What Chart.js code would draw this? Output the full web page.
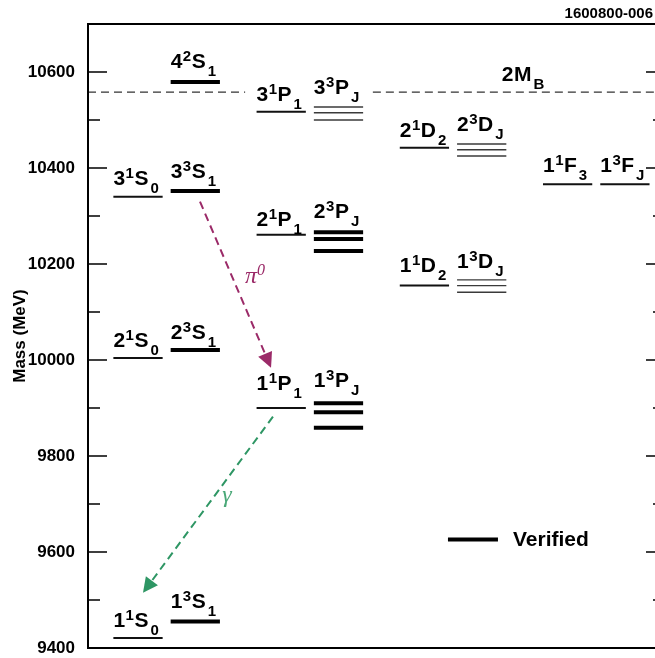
<!DOCTYPE html>
<html><head><meta charset="utf-8">
<script src="https://cdn.jsdelivr.net/npm/chart.js@4/dist/chart.umd.min.js"></script>
<style>
html,body{margin:0;padding:0;background:#fff;overflow:hidden;}
#wrap{position:relative;width:655px;height:658px;overflow:hidden;background:#fff;}
canvas{display:block;}
</style></head><body>
<div id="wrap"><canvas id="c" width="680" height="680" style="width:680px;height:680px"></canvas></div>
<script>
// ---------------- DATA ----------------
// x positions (column units) of the eight level columns
const columns = [0, 1, 2.5, 3.5, 5, 6, 7.5, 8.5];

// Levels: [column index, mass (MeV)]
const verifiedLevels = [
  [1, 9455], [1, 10021], [1, 10352], [1, 10579],
  [3, 10266], [3, 10252], [3, 10227],
  [3, 9910], [3, 9891], [3, 9859]
];
const predictedSingleLevels = [
  [0, 9421], [0, 10004], [0, 10340],
  [2, 9900], [2, 10261], [2, 10517],
  [4, 10155], [4, 10442],
  [6, 10366], [7, 10366]
];
const predictedMultipletLevels = [
  [3, 10527], [3, 10515], [3, 10500],
  [5, 10450], [5, 10438], [5, 10425],
  [5, 10167], [5, 10155], [5, 10141]
];

// 2 M_B threshold (MeV) and the x-range (column units) where the dashed line is interrupted
const thresholdMass = 10558;
const thresholdGap = [1.87, 4.10];

// Level labels: [prefix, superscript, letter, subscript, column index, label baseline mass]
const levelLabels = [
  ['4','2','S','1', 1, 10608],
  ['3','1','S','0', 0, 10365],
  ['3','3','S','1', 1, 10380],
  ['3','1','P','1', 2, 10540],
  ['3','3','P','J', 3, 10554],
  ['2','1','D','2', 4, 10465],
  ['2','3','D','J', 5, 10477],
  ['1','1','F','3', 6, 10392],
  ['1','3','F','J', 7, 10392],
  ['2','1','P','1', 2, 10279],
  ['2','3','P','J', 3, 10296],
  ['1','1','D','2', 4, 10184],
  ['1','3','D','J', 5, 10192],
  ['2','1','S','0', 0, 10027],
  ['2','3','S','1', 1, 10044],
  ['1','1','P','1', 2, 9938],
  ['1','3','P','J', 3, 9944],
  ['1','1','S','0', 0, 9444],
  ['1','3','S','1', 1, 9484]
];
const thresholdLabel = ['2', '', 'M', 'B', 6.35, 10581];

// Transitions: start and arrow tip [x units, mass], label anchor [x units, mass]
const transitionNames = ['\u03C0', '\u03B3'];
const transitionSups = ['0', ''];
const transitionFrom = [[1.082, 10330], [2.356, 9882]];
const transitionTo   = [[2.322, 9984], [0.087, 9515]];
const transitionLabelAt = [[2.042, 10173], [1.553, 9717]];

// Legend
const legendText = 'Verified';
const legendLine = [[5.411, 9626], [6.284, 9626]];
const legendTextAt = [6.546, 9624];

// Y ticks
const yMin = 9400, yMax = 10700, yStep = 100, yLabelStep = 200;
const figureId = '1600800-006';

// ---------------- STYLE / BUILD ----------------
const halfWidth = 0.43;
const xMin = -0.873, xMax = 9.2;
const FONT = '"Liberation Sans", Arial, Helvetica, sans-serif';
const SERIF = '"Liberation Serif", "DejaVu Serif", serif';
const transitionColors = ['#9b2a68', '#2e9664'];
const transitionLabelColors = ['#9b2a68', '#4aa878'];

function seg(col, m) {
  const c = columns[col];
  return [{x: c - halfWidth, y: m}, {x: c + halfWidth, y: m}];
}
const datasets = [];
verifiedLevels.forEach(([c, m]) => datasets.push({data: seg(c, m), borderColor: '#000', borderWidth: 4}));
predictedSingleLevels.forEach(([c, m]) => datasets.push({data: seg(c, m), borderColor: '#111', borderWidth: 2}));
predictedMultipletLevels.forEach(([c, m]) => datasets.push({data: seg(c, m), borderColor: '#3a3a3a', borderWidth: 1.4}));
datasets.push({data: [{x: xMin, y: thresholdMass}, {x: thresholdGap[0], y: thresholdMass}], borderColor: '#333', borderWidth: 1.3, borderDash: [8, 5]});
datasets.push({data: [{x: thresholdGap[1], y: thresholdMass}, {x: xMax, y: thresholdMass}], borderColor: '#333', borderWidth: 1.3, borderDash: [8, 5]});
transitionFrom.forEach((f, i) => datasets.push({
  data: [{x: f[0], y: f[1]}, {x: transitionTo[i][0], y: transitionTo[i][1]}],
  borderColor: transitionColors[i], borderWidth: 2, borderDash: [8, 5]
}));
datasets.push({data: legendLine.map(p => ({x: p[0], y: p[1]})), borderColor: '#000', borderWidth: 4});
datasets.forEach(d => { d.pointRadius = 0; d.borderCapStyle = 'butt'; d.fill = false; d.tension = 0; });

function drawLevelLabel(ctx, x, y, pre, sup, main, sub) {
  ctx.textAlign = 'left'; ctx.textBaseline = 'alphabetic'; ctx.fillStyle = '#000';
  const big = 'bold 21px ' + FONT, small = 'bold 15px ' + FONT;
  ctx.font = big; ctx.fillText(pre, x, y); x += ctx.measureText(pre).width + 0.5;
  if (sup) { ctx.font = small; ctx.fillText(sup, x, y - 7); x += ctx.measureText(sup).width + 0.5; }
  ctx.font = big; ctx.fillText(main, x, y); x += ctx.measureText(main).width + 2;
  ctx.font = small; ctx.fillText(sub, x, y + 8);
}

const overlay = {
  id: 'overlay',
  afterDatasetsDraw(chart) {
    const ctx = chart.ctx, xs = chart.scales.x, ys = chart.scales.y, a = chart.chartArea;
    ctx.save();
    // frame
    ctx.strokeStyle = '#000'; ctx.lineWidth = 2;
    ctx.strokeRect(a.left, a.top, a.right - a.left, a.bottom - a.top);
    // inward ticks on both vertical axes
    ctx.lineWidth = 1.3;
    ys.ticks.forEach(t => {
      const y = ys.getPixelForValue(t.value);
      const len = (t.value % yLabelStep === 0) ? 19 : 12;
      ctx.beginPath();
      ctx.moveTo(a.left, y); ctx.lineTo(a.left + len, y);
      ctx.moveTo(a.right, y); ctx.lineTo(a.right - len, y);
      ctx.stroke();
    });
    // level labels
    levelLabels.forEach(([pre, sup, main, sub, col, m]) => {
      drawLevelLabel(ctx, xs.getPixelForValue(columns[col] - halfWidth), ys.getPixelForValue(m), pre, sup, main, sub);
    });
    const tl = thresholdLabel;
    drawLevelLabel(ctx, xs.getPixelForValue(tl[4]), ys.getPixelForValue(tl[5]), tl[0], tl[1], tl[2], tl[3]);
    // arrow heads and transition labels
    transitionFrom.forEach((f, i) => {
      const x0 = xs.getPixelForValue(f[0]), y0 = ys.getPixelForValue(f[1]);
      const x1 = xs.getPixelForValue(transitionTo[i][0]), y1 = ys.getPixelForValue(transitionTo[i][1]);
      const dx = x1 - x0, dy = y1 - y0, L = Math.hypot(dx, dy);
      const ux = dx / L, uy = dy / L, hl = 15, hw = 7.5;
      const bx = x1 - ux * hl, by = y1 - uy * hl;
      ctx.fillStyle = transitionColors[i];
      ctx.beginPath();
      ctx.moveTo(x1, y1);
      ctx.lineTo(bx - uy * hw, by + ux * hw);
      ctx.lineTo(bx + uy * hw, by - ux * hw);
      ctx.closePath(); ctx.fill();
      // label
      const lx = xs.getPixelForValue(transitionLabelAt[i][0]), ly = ys.getPixelForValue(transitionLabelAt[i][1]);
      ctx.fillStyle = transitionLabelColors[i];
      ctx.font = 'italic 24px ' + SERIF;
      const w1 = ctx.measureText(transitionNames[i]).width;
      ctx.font = 'italic 16px ' + SERIF;
      const w2 = transitionSups[i] ? ctx.measureText(transitionSups[i]).width : 0;
      let sx = lx - (w1 + w2) / 2;
      ctx.textAlign = 'left'; ctx.textBaseline = 'alphabetic';
      ctx.font = 'italic 24px ' + SERIF;
      ctx.fillText(transitionNames[i], sx, ly + 6);
      if (transitionSups[i]) { ctx.font = 'italic 16px ' + SERIF; ctx.fillText(transitionSups[i], sx + w1, ly - 2); }
    });
    // legend text
    ctx.fillStyle = '#000'; ctx.font = 'bold 21px ' + FONT; ctx.textAlign = 'left'; ctx.textBaseline = 'middle';
    ctx.fillText(legendText, xs.getPixelForValue(legendTextAt[0]), ys.getPixelForValue(legendTextAt[1]));
    // figure id
    ctx.font = 'bold 15px ' + FONT; ctx.textAlign = 'right'; ctx.textBaseline = 'alphabetic';
    ctx.fillText(figureId, 653, 17.5);
    ctx.restore();
  }
};

new Chart(document.getElementById('c'), {
  type: 'line',
  data: {datasets},
  options: {
    responsive: false,
    devicePixelRatio: 1,
    animation: false,
    layout: {padding: {top: 24, right: 15, bottom: 32, left: 0}},
    plugins: {legend: {display: false}, tooltip: {enabled: false}},
    scales: {
      x: {type: 'linear', min: xMin, max: xMax, display: false},
      y: {
        type: 'linear', min: yMin, max: yMax,
        grid: {display: false}, border: {display: false},
        ticks: {
          stepSize: yStep, autoSkip: false, padding: 5, color: '#000',
          font: {family: FONT, size: 17, weight: 'bold'},
          callback: v => (v % yLabelStep === 0 && v < yMax) ? String(v) : ''
        },
        title: {display: true, text: 'Mass (MeV)', color: '#000',
          font: {family: FONT, size: 17, weight: 'bold'}, padding: {top: 10, bottom: 0}},
        afterFit: s => { s.width = 88; }
      }
    }
  },
  plugins: [overlay]
});
</script>
</body></html>
